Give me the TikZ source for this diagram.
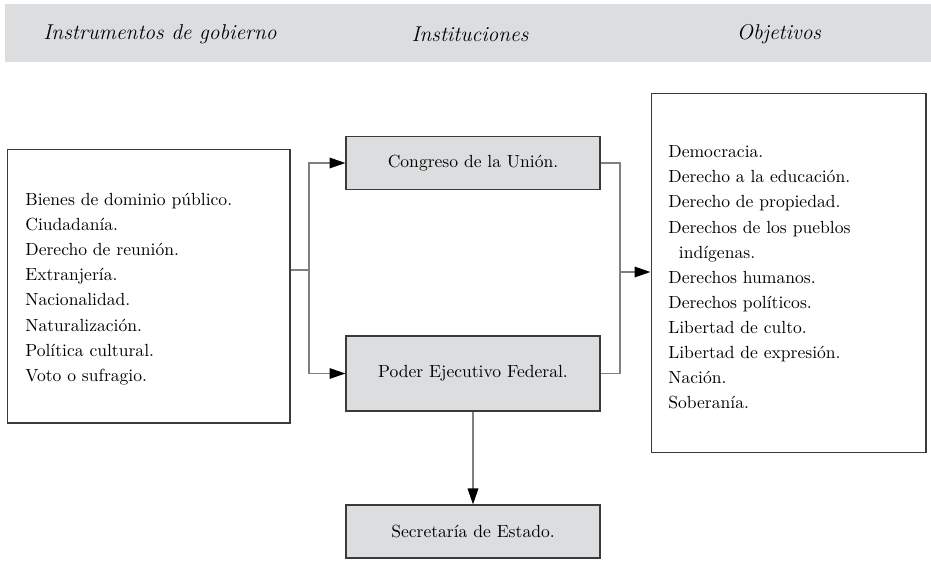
\documentclass[tikz,border=0pt]{standalone}
\usetikzlibrary{arrows.meta}
\definecolor{boxgray}{HTML}{DCDDDF}
\definecolor{linegray}{HTML}{808080}
\definecolor{edgegray}{HTML}{3A3A3A}

\begin{document}
\begin{tikzpicture}[x=0.02cm, y=-0.02cm,
  inst/.style={draw=edgegray, fill=boxgray, line width=0.6pt, minimum width=5.08cm, font=\fontsize{10}{12}\selectfont},
  listbox/.style={draw=edgegray, fill=white, line width=0.6pt},
  listtext/.style={align=left, anchor=west, inner sep=0pt, font=\fontsize{10}{14.3}\selectfont},
  head/.style={font=\fontsize{12.2}{14}\selectfont\itshape},
  conn/.style={draw=linegray, line width=1pt},
  arr/.style={-{Triangle[length=3.2mm, width=2.1mm, color=black]}}]
  \useasboundingbox (0,0) rectangle (931,562);
  % header band
  \fill[boxgray] (5,4) rectangle (931,62);
  \node[head] (hinst) at (160,34) {Instrumentos de gobierno};
  \node[head] (hinsti) at (470,34) {Instituciones};
  \node[head] (hobj) at (779,34) {Objetivos};

  % boxes
  \node[listbox, minimum width=5.66cm, minimum height=5.48cm] (lbox) at (148.5,286) {};
  \node[listtext] (ltext) at (25,289) {Bienes de dominio público.\\
    Ciudadanía.\\
    Derecho de reunión.\\
    Extranjería.\\
    Nacionalidad.\\
    Naturalización.\\
    Política cultural.\\
    Voto o sufragio.};
  \node[inst, minimum height=1.06cm] (congreso) at (473,163) {Congreso de la Unión.};
  \node[inst, minimum height=1.5cm] (poder) at (473,373.5) {Poder Ejecutivo Federal.};
  \node[inst, minimum height=1.06cm] (secretaria) at (473,531.5) {Secretaría de Estado.};
  \node[listbox, minimum width=5.5cm, minimum height=7.2cm] (obj) at (788.5,273) {};
  \node[listtext] (otext) at (668,277.5) {Democracia.\\
    Derecho a la educación.\\
    Derecho de propiedad.\\
    Derechos de los pueblos\\
    \hspace*{0.6em}indígenas.\\
    Derechos humanos.\\
    Derechos políticos.\\
    Libertad de culto.\\
    Libertad de expresión.\\
    Nación.\\
    Soberanía.};

  % connectors
  \coordinate (jl) at (309,270);
  \coordinate (jr) at (620,272);
  \draw[conn] (lbox.east |- jl) -- (jl);
  \draw[conn, arr] (jl) |- (congreso.west);
  \draw[conn, arr] (jl) |- (poder.west);
  \draw[conn] (congreso.east) -| (jr |- poder.east) -- (poder.east);
  \draw[conn, arr] (jr) -- (obj.west |- jr);
  \draw[conn, arr] (poder.south) -- (secretaria.north);
\end{tikzpicture}
\end{document}
